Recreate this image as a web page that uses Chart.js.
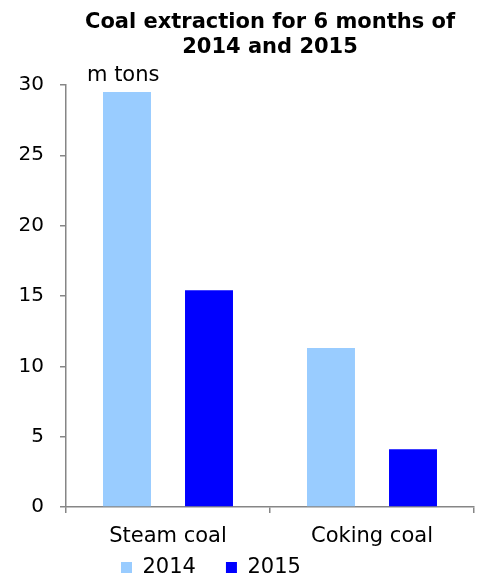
<!DOCTYPE html>
<html>
<head>
<meta charset="utf-8">
<title>Coal extraction</title>
<script src="https://cdn.jsdelivr.net/npm/chart.js@4.4.0/dist/chart.umd.min.js"></script>
<style>
    html, body { margin: 0; padding: 0; background: #fff; }
    #wrap { width: 484px; height: 576px; }
</style>
</head>
<body>
<div id="wrap"><canvas id="coalChart"></canvas></div>
<script>
// Chart data
const categories = ['Steam coal', 'Coking coal'];
const seriesNames = ['2014', '2015'];
const values2014 = [29.5, 11.3];
const values2015 = [15.4, 4.1];
const yTicks = [0, 5, 10, 15, 20, 25, 30];
const titleLines = ['Coal extraction for 6 months of', '2014 and 2015'];
const unitLabel = 'm tons';

const FONT = '"DejaVu Sans", Verdana, sans-serif';
const AXIS_GRAY = '#868686';

// Unit caption above the top of the value axis
const unitCaption = {
    id: 'unitCaption',
    afterDraw(chart) {
        const y = chart.scales.y;
        const ctx = chart.ctx;
        ctx.save();
        ctx.font = '21px ' + FONT;
        ctx.fillStyle = '#000';
        ctx.textAlign = 'left';
        ctx.textBaseline = 'middle';
        ctx.fillText(unitLabel, chart.chartArea.left + 21, y.getPixelForValue(yTicks[yTicks.length - 1]) - 9);
        ctx.restore();
    }
};

// Pull the legend row up under the category labels, starting near the first bar
const legendPlacement = {
    id: 'legendPlacement',
    afterLayout(chart) {
        const lg = chart.legend;
        const pad = lg.options.labels.padding;
        const x0 = (lg.left + pad + lg.right - lg.lineWidths[0]) / 2;
        const dx = chart.chartArea.left + 55 - x0;
        lg.left += dx;
        lg.right += dx;
        lg.top -= 19;
    }
};

new Chart(document.getElementById('coalChart'), {
    type: 'bar',
    data: {
        labels: categories,
        datasets: [{
            label: seriesNames[0],
            data: values2014,
            backgroundColor: '#99ccff',
            borderWidth: 0,
        }, {
            label: seriesNames[1],
            data: values2015,
            backgroundColor: '#0000ff',
            borderWidth: 0,
        }]
    },
    options: {
        responsive: true,
        maintainAspectRatio: false,
        animation: false,
        categoryPercentage: 0.804,
        barPercentage: 0.585,
        layout: {
            padding: { left: 0, right: 10, top: 0, bottom: 0 }
        },
        scales: {
            x: {
                grid: {
                    display: true,
                    drawOnChartArea: false,
                    drawTicks: true,
                    tickLength: 6,
                    lineWidth: 1.5,
                    color: AXIS_GRAY,
                },
                border: { display: true, color: AXIS_GRAY, width: 1.5 },
                ticks: {
                    color: '#000',
                    padding: 11,
                    font: { family: FONT, size: 21 }
                },
                afterFit(scale) {
                    scale.height = 39;
                }
            },
            y: {
                min: 0,
                max: 30,
                afterBuildTicks(scale) {
                    scale.ticks = yTicks.map(v => ({ value: v }));
                },
                grid: {
                    display: true,
                    drawOnChartArea: false,
                    drawTicks: true,
                    tickLength: 6,
                    lineWidth: 1.5,
                    color: AXIS_GRAY,
                },
                border: { display: true, color: AXIS_GRAY, width: 1.5 },
                ticks: {
                    color: '#000',
                    padding: 16,
                    font: { family: FONT, size: 20 }
                },
                afterFit(scale) {
                    scale.width = 66;
                }
            }
        },
        plugins: {
            title: {
                display: true,
                text: titleLines,
                color: '#000',
                fullSize: false,
                font: { family: FONT, size: 21, weight: 'bold', lineHeight: 1.2 },
                padding: { top: 10, bottom: 24.5 }
            },
            legend: {
                position: 'bottom',
                maxHeight: 30,
                labels: {
                    color: '#000',
                    boxWidth: 11,
                    boxHeight: 11,
                    padding: 30,
                    font: { family: FONT, size: 21 }
                }
            },
            tooltip: { enabled: false }
        }
    },
    plugins: [unitCaption, legendPlacement]
});
</script>
</body>
</html>
